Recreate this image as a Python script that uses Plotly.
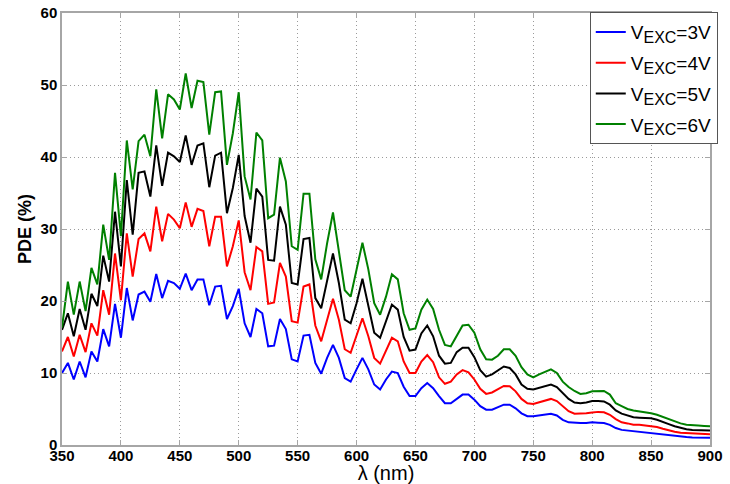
import plotly.graph_objects as go

# Wavelength grid (nm)
wavelength = list(range(350, 905, 5))

# PDE (%) for each excess bias voltage
pde_3v = [
    10.0, 11.4, 9.1, 11.6, 9.4, 13.0, 11.6, 16.1, 13.7, 19.6,
    14.9, 21.8, 17.3, 20.9, 21.3, 19.9, 23.75, 20.4, 22.8, 22.5,
    21.7, 23.8, 21.5, 23.0, 23.0, 19.4, 22.0, 22.1, 17.5, 19.3,
    21.7, 16.9, 15.0, 18.9, 18.3, 13.7, 13.8, 17.5, 16.1, 11.9,
    11.6, 15.2, 15.3, 11.4, 9.9, 12.1, 13.9, 12.1, 9.3, 8.8,
    10.5, 12.1, 10.5, 8.4, 7.7, 9.1, 10.2, 10.0, 8.1, 6.8,
    6.8, 7.9, 8.6, 7.9, 6.8, 5.8, 5.8, 6.4, 7.0, 7.0,
    6.3, 5.4, 4.9, 4.9, 5.3, 5.6, 5.6, 5.1, 4.4, 4.0,
    4.0, 4.1, 4.2, 4.35, 4.1, 3.5, 3.15, 3.05, 3.05, 3.05,
    3.15, 3.1, 3.05, 2.8, 2.35, 2.1, 2.0, 1.9, 1.85, 1.8,
    1.7, 1.55, 1.45, 1.3, 1.2, 1.15, 1.1, 1.05, 1.05, 1.0, 1.0,
]
pde_4v = [
    13.0, 15.0, 12.3, 15.3, 12.9, 16.9, 15.2, 21.5, 18.1, 26.6,
    20.1, 29.4, 23.4, 28.6, 29.4, 26.9, 33.1, 28.3, 32.1, 31.3,
    30.1, 33.7, 30.3, 32.8, 32.5, 27.6, 31.7, 31.7, 24.8, 27.6,
    31.2, 24.0, 21.5, 27.5, 26.9, 19.6, 19.8, 25.3, 23.4, 17.2,
    17.0, 22.0, 22.3, 16.6, 14.4, 17.4, 20.3, 17.4, 13.3, 12.8,
    15.1, 17.6, 15.1, 12.1, 11.3, 13.2, 14.9, 14.4, 11.6, 10.0,
    10.0, 11.6, 12.5, 11.5, 9.4, 8.5, 8.8, 9.8, 10.4, 10.1,
    9.1, 7.8, 7.1, 7.3, 7.8, 8.2, 8.15, 7.45, 6.4, 5.8,
    5.7, 5.9, 6.2, 6.4, 6.1, 5.4, 4.7, 4.35, 4.35, 4.4,
    4.5, 4.6, 4.55, 4.2, 3.6, 3.15, 3.0, 2.8, 2.8, 2.7,
    2.7, 2.5, 2.25, 2.0, 1.85, 1.7, 1.65, 1.6, 1.55, 1.55, 1.5,
]
pde_5v = [
    16.0, 18.3, 15.1, 18.9, 16.0, 21.0, 19.3, 26.3, 22.7, 32.4,
    24.8, 36.8, 29.2, 37.8, 38.0, 34.5, 41.6, 36.0, 40.6, 40.1,
    39.3, 43.0, 38.9, 41.6, 41.9, 35.8, 40.2, 40.6, 32.2, 35.7,
    40.3, 31.8, 28.1, 35.6, 34.5, 25.7, 25.6, 33.1, 30.6, 22.5,
    22.3, 28.6, 28.75, 20.4, 19.0, 22.7, 26.6, 22.5, 17.4, 16.9,
    19.7, 23.1, 19.5, 15.6, 14.9, 17.2, 19.5, 18.8, 15.0, 13.1,
    13.25, 15.5, 16.6, 15.1, 12.4, 11.3, 11.4, 12.9, 13.5, 13.5,
    12.2, 10.4, 9.5, 9.8, 10.4, 10.9, 10.7, 9.8, 8.4, 7.8,
    7.7, 7.9, 8.2, 8.4, 8.05, 7.2, 6.4, 5.9, 5.8, 5.9,
    6.1, 6.1, 6.05, 5.6, 4.8, 4.35, 4.1, 3.85, 3.8, 3.75,
    3.7, 3.5, 3.25, 2.9, 2.6, 2.35, 2.2, 2.1, 2.1, 2.05, 2.0,
]
pde_6v = [
    16.3, 22.7, 18.1, 22.7, 18.6, 24.6, 22.3, 30.6, 25.7, 37.8,
    29.0, 42.3, 35.5, 42.2, 43.1, 40.1, 49.4, 42.6, 48.7, 48.0,
    46.6, 51.6, 46.8, 50.6, 50.4, 43.1, 49.0, 49.1, 38.9, 43.3,
    49.0, 37.3, 34.1, 43.4, 42.3, 31.5, 32.0, 39.9, 36.6, 27.6,
    27.1, 34.9, 34.9, 25.8, 23.0, 28.0, 32.3, 27.1, 21.5, 20.6,
    24.6, 28.1, 24.4, 19.7, 18.1, 20.6, 23.7, 23.0, 18.3, 16.0,
    16.2, 18.8, 20.2, 18.9, 16.0, 13.9, 13.7, 15.1, 16.6, 16.7,
    15.6, 13.3, 11.9, 11.85, 12.4, 13.3, 13.3, 12.4, 10.8, 9.8,
    9.4, 9.8, 10.2, 10.5, 10.0, 8.8, 8.05, 7.5, 7.1, 7.2,
    7.45, 7.5, 7.5, 7.0, 5.8, 5.4, 5.0, 4.8, 4.7, 4.6,
    4.4, 4.2, 3.9, 3.5, 3.2, 3.0, 2.8, 2.7, 2.7, 2.65, 2.6,
]

series_names = [
    "V<sub><span style='font-size:16px'>EXC</span></sub>=3V",
    "V<sub><span style='font-size:16px'>EXC</span></sub>=4V",
    "V<sub><span style='font-size:16px'>EXC</span></sub>=5V",
    "V<sub><span style='font-size:16px'>EXC</span></sub>=6V",
]
series_values = [pde_3v, pde_4v, pde_5v, pde_6v]
series_colors = ["#0000ff", "#ff0000", "#000000", "#008000"]

x_ticks = list(range(350, 901, 50))
y_ticks = list(range(0, 61, 10))

FONT = "Liberation Sans, Arial, sans-serif"
FRAME = "#a6a6a6"
GRID = "#9a9a9a"

fig = go.Figure()
for name, vals, color in zip(series_names, series_values, series_colors):
    fig.add_trace(go.Scatter(
        x=wavelength, y=vals, mode="lines", name=name,
        line=dict(color=color, width=2),
        legendgroup=name,
    ))

axis_common = dict(
    showline=True, linecolor=FRAME, linewidth=1.5, mirror="ticks",
    ticks="inside", ticklen=5, tickcolor=FRAME, tickwidth=1,
    showgrid=True, gridcolor=GRID, griddash="1px,3px", gridwidth=1,
    zeroline=False, automargin=False,
    tickfont=dict(family=FONT, size=15, color="#000000", weight="bold"),
)

fig.update_xaxes(
    range=[350, 900], tickvals=x_ticks, ticklabelstandoff=-4,
    title=dict(text="λ (nm)", font=dict(family=FONT, size=20, color="#000000"), standoff=8),
    **axis_common,
)
fig.update_yaxes(
    range=[0, 60], tickvals=y_ticks,
    title=dict(text="PDE (%)", font=dict(family=FONT, size=18, color="#000000", weight="bold"), standoff=4),
    **axis_common,
)

fig.update_layout(
    width=730, height=484,
    margin=dict(l=62, r=12, t=13, b=39),
    paper_bgcolor="white", plot_bgcolor="white",
    font=dict(family=FONT, color="#000000"),
    legend=dict(
        x=1.012, y=1.002, xanchor="right", yanchor="top",
        bgcolor="white", bordercolor="#555555", borderwidth=1,
        font=dict(family=FONT, size=19, color="#000000"),
        tracegroupgap=3,
    ),
    showlegend=True,
)

fig.write_html("out.html")
